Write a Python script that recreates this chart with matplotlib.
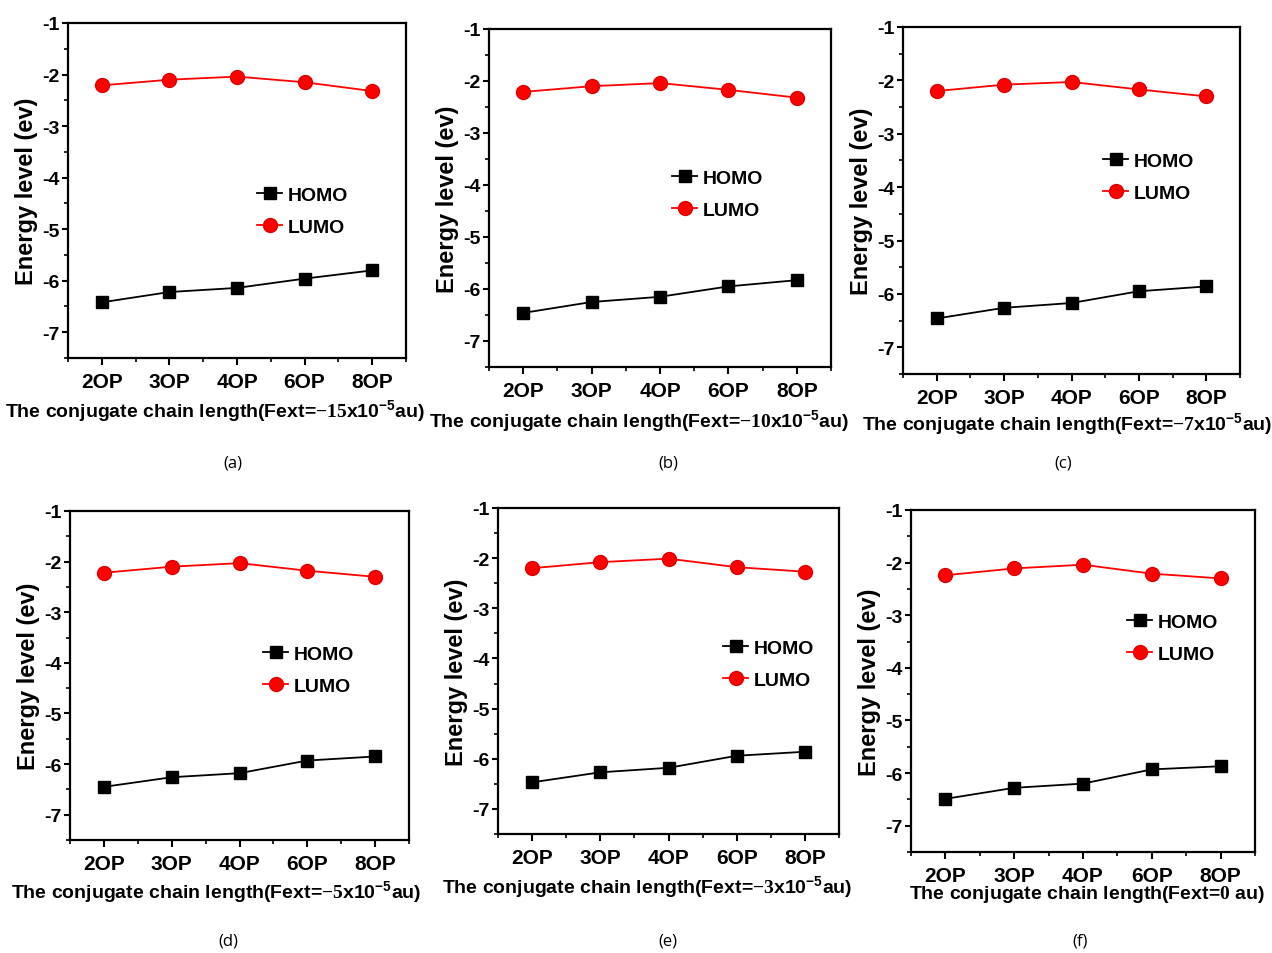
import numpy as np
import matplotlib
matplotlib.use('Agg')
import matplotlib.pyplot as plt
from matplotlib.ticker import MultipleLocator

plt.rcParams['font.family'] = ['Liberation Sans', 'DejaVu Sans']
plt.rcParams['font.weight'] = 'bold'
plt.rcParams['axes.unicode_minus'] = False
plt.rcParams['mathtext.fontset'] = 'custom'
plt.rcParams['mathtext.rm'] = 'Liberation Serif'
plt.rcParams['mathtext.bf'] = 'Liberation Sans:bold'

# data
chains = ['2OP', '3OP', '4OP', '6OP', '8OP']
fext = ['-15', '-10', '-7', '-5', '-3', '0']
panel_tags = ['(a)', '(b)', '(c)', '(d)', '(e)', '(f)']

lumo_a = [-2.21, -2.10, -2.04, -2.15, -2.32]
homo_a = [-6.42, -6.22, -6.14, -5.96, -5.80]
lumo_b = [-2.21, -2.10, -2.04, -2.17, -2.32]
homo_b = [-6.46, -6.25, -6.15, -5.95, -5.83]
lumo_c = [-2.20, -2.08, -2.03, -2.17, -2.30]
homo_c = [-6.46, -6.26, -6.17, -5.95, -5.86]
lumo_d = [-2.22, -2.10, -2.03, -2.18, -2.30]
homo_d = [-6.45, -6.26, -6.18, -5.93, -5.85]
lumo_e = [-2.20, -2.08, -2.01, -2.18, -2.27]
homo_e = [-6.47, -6.27, -6.18, -5.94, -5.86]
lumo_f = [-2.24, -2.11, -2.04, -2.21, -2.30]
homo_f = [-6.49, -6.28, -6.20, -5.93, -5.87]

lumos = [lumo_a, lumo_b, lumo_c, lumo_d, lumo_e, lumo_f]
homos = [homo_a, homo_b, homo_c, homo_d, homo_e, homo_f]

W, H = 1272, 954
fig = plt.figure(figsize=(W / 100, H / 100), dpi=100)

# layout in pixels: axes box (left, right, top, bottom), legend anchor, xlabel centre, tag centre
boxes = [(68, 406, 24, 359), (489, 831, 30, 368), (903, 1240, 28, 375),
         (70, 409, 512, 841), (498, 839, 509, 835), (911, 1255, 511, 853)]
leg_xy = [(257, 187), (672, 170), (1103, 153), (263, 646), (723, 640), (1127, 614)]
xlab_xy = [(215, 412), (639, 422), (1067, 425), (216, 893), (647, 888), (1087, 895)]
tag_xy = [(233, 463), (668, 463), (1063, 463), (228, 942), (668, 942), (1080, 942)]

x = np.arange(len(chains))
for i in range(6):
    l, r, t, b = boxes[i]
    ax = fig.add_axes([l / W, 1 - b / H, (r - l) / W, (b - t) / H])
    ax.plot(x, homos[i], '-s', color='black', ms=8, lw=1.3, label='HOMO')
    ax.plot(x, lumos[i], '-o', color='#ff0000', mec='#e00000', ms=10, lw=1.3, label='LUMO')
    ax.set_xlim(-0.5, 4.5)
    ax.set_ylim(-7.5, -1)
    ax.set_xticks(x)
    ax.set_xticklabels(chains, fontsize=15)
    ax.xaxis.set_minor_locator(MultipleLocator(0.5))
    ax.yaxis.set_major_locator(MultipleLocator(1))
    ax.yaxis.set_minor_locator(MultipleLocator(0.5))
    ax.tick_params(axis='y', which='major', labelsize=14, length=4, width=1.5, pad=2)
    ax.tick_params(axis='x', which='major', length=5, width=1.5, pad=5)
    ax.tick_params(which='minor', length=3, width=1.2)
    for s in ax.spines.values():
        s.set_linewidth(1.6)
    ax.set_ylabel('Energy level (ev)', fontsize=17, fontweight='bold', labelpad=3)

    lx, ly = leg_xy[i]
    ax.legend(loc='upper left', bbox_to_anchor=(lx / W, 1 - ly / H), bbox_transform=fig.transFigure,
              frameon=False, fontsize=14, handlelength=1.3, handletextpad=0.3,
              labelspacing=0.75, borderpad=0, borderaxespad=0)

    if fext[i] == '0':
        lab = r'The conjugate chain length(Fext=$\mathrm{0}$ au)'
    else:
        lab = r'The conjugate chain length(Fext=$\mathrm{' + fext[i] + r'}$x10$^{\mathbf{-5}}$au)'
    cx, cy = xlab_xy[i]
    fig.text(cx / W, 1 - cy / H, lab, fontsize=14, ha='center', va='center')

    tx, ty = tag_xy[i]
    fig.text(tx / W, 1 - ty / H, panel_tags[i], fontsize=12, fontweight='normal',
             family=['Open Sans', 'DejaVu Sans'], ha='center', va='center')

fig.savefig('out.png', dpi=100)
